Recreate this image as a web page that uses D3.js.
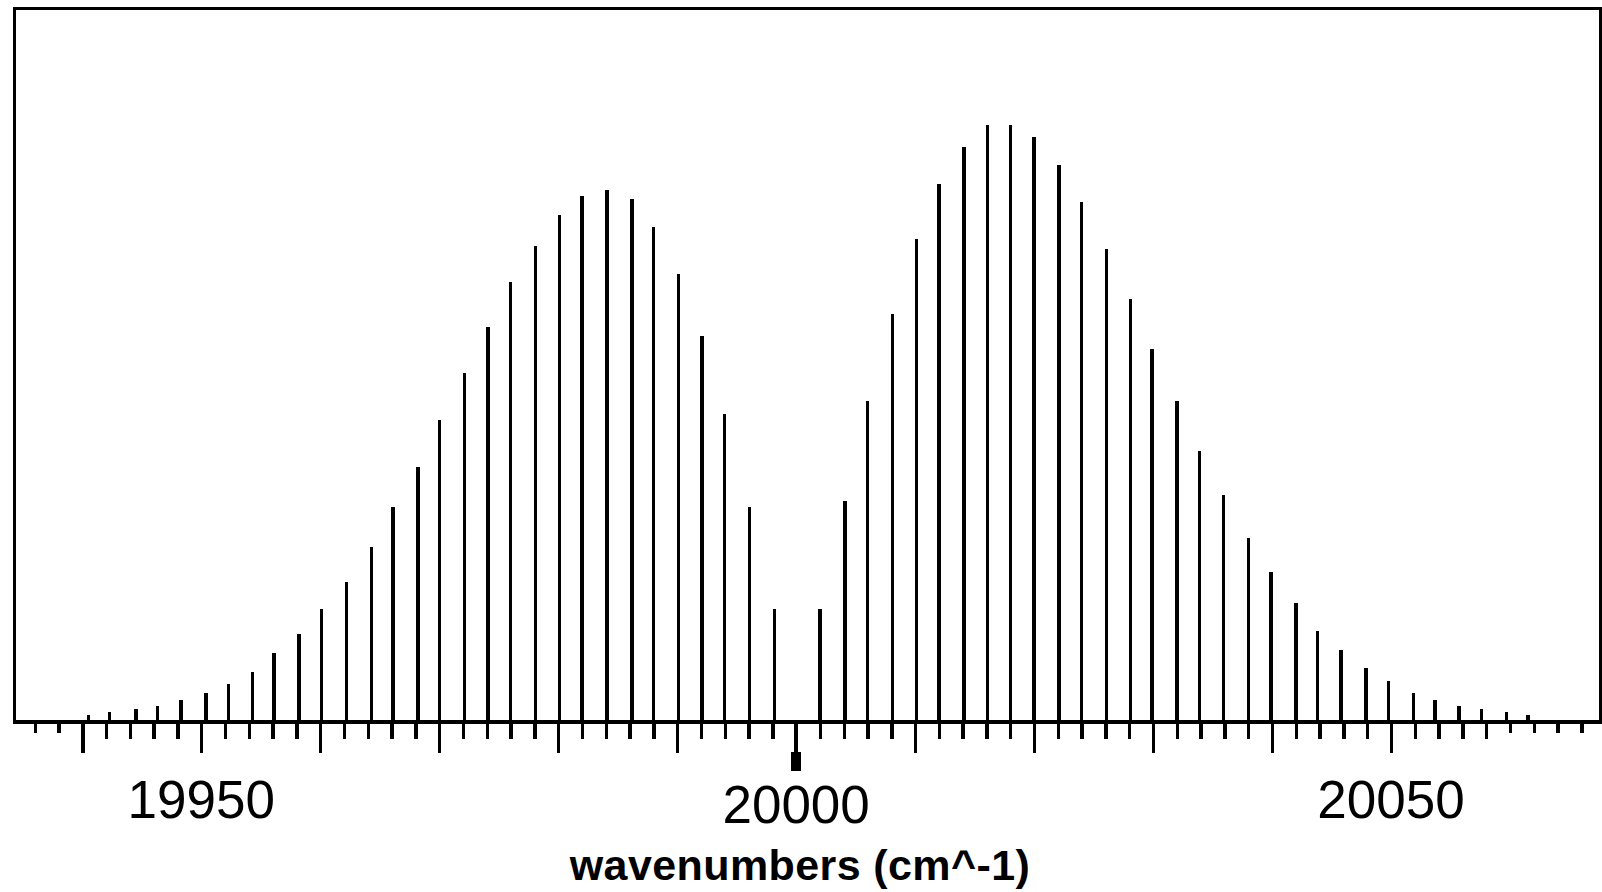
<!DOCTYPE html>
<html>
<head>
<meta charset="utf-8">
<script src="https://cdn.jsdelivr.net/npm/d3@7"></script>
<style>
  body { margin: 0; background: #fff; }
  svg { display: block; }
</style>
</head>
<body>
<svg id="chart"></svg>
<script>
// P branch lines (below band origin), wavenumber and relative intensity
const pPositions = [19940.5, 19942.3, 19944.5, 19946.3, 19948.3, 19950.4, 19952.3, 19954.3, 19956.1, 19958.2,
                    19960.1, 19962.2, 19964.3, 19966.1, 19968.2, 19970.0, 19972.1, 19974.1, 19976.0, 19978.1,
                    19980.1, 19982.0, 19984.1, 19986.2, 19988.0, 19990.1, 19992.1, 19994.0, 19996.1, 19998.2];
const pIntensities = [1.2, 1.7, 2.2, 2.7, 3.7, 4.9, 6.4, 8.4, 11.6, 14.8,
                      18.9, 23.4, 29.3, 36.0, 42.7, 50.6, 58.5, 66.1, 73.6, 79.7,
                      84.9, 88.1, 89.1, 87.6, 82.9, 75.0, 64.7, 51.6, 36.0, 18.9];

// R branch lines (above band origin)
const rPositions = [20002.0, 20004.1, 20006.0, 20008.1, 20010.1, 20012.0, 20014.1, 20016.1, 20018.0, 20020.0,
                    20022.1, 20024.0, 20026.1, 20028.1, 20029.9, 20032.0, 20033.9, 20035.9, 20038.0, 20039.9,
                    20042.0, 20043.8, 20045.8, 20047.9, 20049.8, 20051.9, 20053.7, 20055.7, 20057.6, 20059.7,
                    20061.5];
const rIntensities = [18.9, 37.0, 53.8, 68.3, 80.8, 90.1, 96.3, 100, 100, 98.0,
                      93.3, 87.0, 79.2, 70.9, 62.5, 53.8, 45.4, 38.0, 30.8, 25.1,
                      19.9, 15.2, 12.1, 9.0, 6.9, 4.9, 3.7, 2.7, 2.2, 1.7,
                      1.2];

const bandOrigin = 20000;
const majorTicks = [19940, 19950, 19960, 19970, 19980, 19990, 20010, 20020, 20030, 20040, 20050];
const edgeTicks = [19936, 19938, 20060, 20062, 20064, 20066];
const tickLabels = [19950, 20000, 20050];
const axisTitle = "wavenumbers (cm^-1)";

const width = 1602;
const height = 892;

// plot frame (baseline is the bottom edge)
const frame = { left: 14.7, right: 1601, top: 8.3, bottom: 722 };
const stroke = 3.4;

const lines = pPositions.map((p, i) => ({ pos: p, val: pIntensities[i] }))
    .concat(rPositions.map((p, i) => ({ pos: p, val: rIntensities[i] })));

const minorTicks = d3.range(19942, 20059, 2).filter(v => v % 10 !== 0);

const x = d3.scaleLinear()
    .domain([19940, 20050])
    .range([82.3, 1391]);

const y = d3.scaleLinear()
    .domain([0, 119.5])
    .range([frame.bottom, frame.top]);

const svg = d3.select("#chart")
    .attr("width", width)
    .attr("height", height)
    .attr("shape-rendering", "crispEdges");

// ticks under the baseline
const drawTicks = (values, size) => {
    const g = svg.append("g")
        .attr("transform", `translate(0, ${frame.bottom})`)
        .call(d3.axisBottom(x).tickValues(values).tickSizeInner(size).tickSizeOuter(0).tickFormat(""));
    g.select(".domain").remove();
    g.selectAll("line").attr("stroke", "#000").attr("stroke-width", stroke);
};
drawTicks(majorTicks, 31);
drawTicks(minorTicks, 17);
drawTicks(edgeTicks, 11);

// band origin marker
svg.append("line")
    .attr("x1", x(bandOrigin)).attr("x2", x(bandOrigin))
    .attr("y1", frame.bottom).attr("y2", frame.bottom + 30)
    .attr("stroke", "#000").attr("stroke-width", stroke);
svg.append("rect")
    .attr("x", x(bandOrigin) - 5)
    .attr("y", frame.bottom + 30)
    .attr("width", 10)
    .attr("height", 19)
    .attr("fill", "#000");

// stick spectrum
svg.selectAll(".stick")
    .data(lines)
    .enter()
    .append("line")
    .attr("class", "stick")
    .attr("x1", d => x(d.pos))
    .attr("x2", d => x(d.pos))
    .attr("y1", y(0))
    .attr("y2", d => y(d.val))
    .attr("stroke", "#000")
    .attr("stroke-width", stroke);

// frame
svg.append("rect")
    .attr("x", frame.left)
    .attr("y", frame.top)
    .attr("width", frame.right - frame.left)
    .attr("height", frame.bottom - frame.top)
    .attr("fill", "none")
    .attr("stroke", "#000")
    .attr("stroke-width", stroke);

// tick labels
svg.selectAll(".tick-label")
    .data(tickLabels)
    .enter()
    .append("text")
    .attr("class", "tick-label")
    .attr("x", d => x(d))
    .attr("y", d => d === bandOrigin ? 823 : 818)
    .attr("text-anchor", "middle")
    .style("font-family", "'Liberation Sans', Arial, sans-serif")
    .style("font-size", "53px")
    .style("fill", "#000")
    .text(d => d);

svg.append("text")
    .attr("x", 800)
    .attr("y", 880)
    .attr("text-anchor", "middle")
    .style("font-family", "'Liberation Sans', Arial, sans-serif")
    .style("font-size", "43px")
    .style("font-weight", "bold")
    .style("letter-spacing", "0.4px")
    .style("fill", "#000")
    .text(axisTitle);
</script>
</body>
</html>
